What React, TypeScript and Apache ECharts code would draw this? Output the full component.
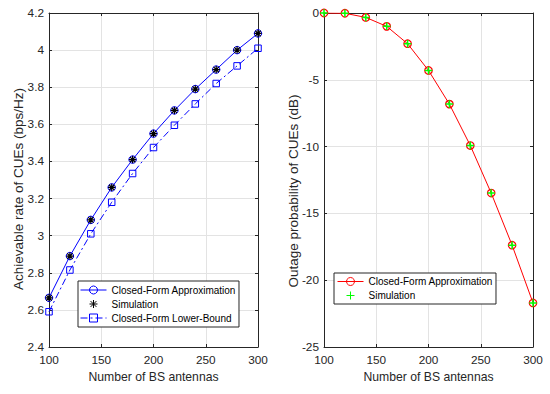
import React, { useEffect, useRef } from "react";
import * as echarts from "echarts";

const antennas = [100, 120, 140, 160, 180, 200, 220, 240, 260, 280, 300];
const rateApprox = [2.665, 2.89, 3.085, 3.26, 3.41, 3.55, 3.675, 3.79, 3.895, 4.0, 4.09];
const rateSim = [2.665, 2.89, 3.085, 3.26, 3.41, 3.55, 3.675, 3.79, 3.895, 4.0, 4.09];
const rateLower = [2.59, 2.815, 3.01, 3.18, 3.335, 3.475, 3.595, 3.71, 3.82, 3.915, 4.01];
const outageApprox = [0, -0.02, -0.33, -1.0, -2.3, -4.3, -6.82, -9.92, -13.48, -17.38, -21.7];
const outageSim = [0, -0.02, -0.33, -1.0, -2.3, -4.3, -6.82, -9.92, -13.48, -17.38, -21.7];
const leftLegendNames = ["Closed-Form Approximation", "Simulation", "Closed-Form Lower-Bound"];
const rightLegendNames = ["Closed-Form Approximation", "Simulation"];
const xTitle = "Number of BS antennas";
const leftYTitle = "Achievable rate of CUEs (bps/Hz)";
const rightYTitle = "Outage probability of CUEs (dB)";

const FONT = "'Liberation Sans', Arial, Helvetica, sans-serif";
const AX = "#262626";
const GRIDC = "#e3e3e3";
const ASTERISK = "path://M0,-1L0,1M-1,0L1,0M-0.72,-0.72L0.72,0.72M-0.72,0.72L0.72,-0.72";
const PLUS = "path://M0,-1L0,1M-1,0L1,0";

const pairs = (ys: number[]) => antennas.map((x, i) => [x, ys[i]]);

function xAxes(gridIndex: number) {
  const common = {
    type: "value" as const,
    gridIndex,
    min: 100,
    max: 300,
    interval: 50,
    axisLine: { show: true, onZero: false, lineStyle: { color: AX, width: 1 } },
    axisTick: { show: true, inside: true, length: 3, lineStyle: { color: AX } },
  };
  return [
    {
      ...common,
      position: "bottom",
      name: xTitle,
      nameLocation: "middle",
      nameGap: 22,
      nameTextStyle: { fontFamily: FONT, fontSize: 12.2, color: AX },
      axisLabel: { show: true, margin: 7, fontFamily: FONT, fontSize: 11.8, color: AX },
      splitLine: { show: true, lineStyle: { color: GRIDC, width: 1 } },
    },
    {
      ...common,
      position: "top",
      axisLabel: { show: false },
      splitLine: { show: false },
    },
  ];
}

function yAxes(gridIndex: number, min: number, max: number, interval: number) {
  const common = {
    type: "value" as const,
    gridIndex,
    min,
    max,
    interval,
    axisLine: { show: true, onZero: false, lineStyle: { color: AX, width: 1 } },
    axisTick: { show: true, inside: true, length: 3, lineStyle: { color: AX } },
  };
  return [
    {
      ...common,
      position: "left",
      axisLabel: { show: true, margin: 5, fontFamily: FONT, fontSize: 11.8, color: AX },
      splitLine: { show: true, lineStyle: { color: GRIDC, width: 1 } },
    },
    {
      ...common,
      position: "right",
      axisLabel: { show: false },
      splitLine: { show: false },
    },
  ];
}

export default function App() {
  const ref = useRef<HTMLDivElement>(null);
  useEffect(() => {
    if (!ref.current) return;
    const chart = echarts.init(ref.current, undefined, { renderer: "svg" });
    const legendCommon = {
      orient: "vertical" as const,
      backgroundColor: "#fff",
      borderColor: AX,
      borderWidth: 1,
      borderRadius: 0,
      itemWidth: 26,
      itemHeight: 10,
      itemGap: 4,
      textStyle: { fontFamily: FONT, fontSize: 10, color: "#000" },
      itemStyle: { borderWidth: 1 },
      selectedMode: false,
    };
    const yTitle = (text: string, x: number, y: number) => ({
      type: "text",
      x,
      y,
      rotation: Math.PI / 2,
      style: {
        text,
        fontFamily: FONT,
        fontSize: 13.5,
        fill: AX,
        align: "center",
        verticalAlign: "middle",
      },
    });
    chart.setOption({
      animation: false,
      backgroundColor: "#fff",
      grid: [
        { left: 49, top: 13, width: 209, height: 334 },
        { left: 324, top: 13, width: 209, height: 334 },
      ],
      xAxis: [...xAxes(0), ...xAxes(1)],
      yAxis: [...yAxes(0, 2.4, 4.2, 0.2), ...yAxes(1, -25, 0, 5)],
      graphic: [yTitle(leftYTitle, 18.5, 189), yTitle(rightYTitle, 293.5, 191)],
      legend: [
        {
          ...legendCommon,
          left: 78,
          top: 281,
          padding: [4, 3, 4, 2],
          data: [
            { name: "L:" + leftLegendNames[0], lineStyle: { width: 1 } },
            { name: "L:" + leftLegendNames[1], lineStyle: { width: 0 } },
            { name: "L:" + leftLegendNames[2], lineStyle: { width: 1 } },
          ],
          formatter: (n: string) => n.slice(2),
        },
        {
          ...legendCommon,
          left: 334,
          top: 273,
          padding: [3.5, 3, 3.5, 3],
          data: [
            { name: "R:" + rightLegendNames[0], lineStyle: { width: 1 } },
            { name: "R:" + rightLegendNames[1], lineStyle: { width: 0 } },
          ],
          formatter: (n: string) => n.slice(2),
        },
      ],
      series: [
        {
          name: "L:" + leftLegendNames[2],
          type: "line",
          xAxisIndex: 0,
          yAxisIndex: 0,
          data: pairs(rateLower),
          symbol: "rect",
          symbolSize: 6.5,
          lineStyle: { color: "#0000ff", width: 1, type: [7, 3, 2, 3] },
          itemStyle: { color: "rgba(255,255,255,0)", borderColor: "#0000ff", borderWidth: 1 },
        },
        {
          name: "L:" + leftLegendNames[0],
          type: "line",
          xAxisIndex: 0,
          yAxisIndex: 0,
          data: pairs(rateApprox),
          symbol: "circle",
          symbolSize: 7.5,
          lineStyle: { color: "#0000ff", width: 1, type: "solid" },
          itemStyle: { color: "rgba(255,255,255,0)", borderColor: "#0000ff", borderWidth: 1 },
        },
        {
          name: "L:" + leftLegendNames[1],
          type: "line",
          xAxisIndex: 0,
          yAxisIndex: 0,
          data: pairs(rateSim),
          symbol: ASTERISK,
          symbolSize: 7.5,
          lineStyle: { width: 0, color: "#000" },
          itemStyle: { color: "#000", borderColor: "#000", borderWidth: 1.2 },
        },
        {
          name: "R:" + rightLegendNames[0],
          type: "line",
          xAxisIndex: 2,
          yAxisIndex: 2,
          data: pairs(outageApprox),
          symbol: "circle",
          symbolSize: 7.5,
          lineStyle: { color: "#ff0000", width: 1 },
          itemStyle: { color: "rgba(255,255,255,0)", borderColor: "#ff0000", borderWidth: 1.2 },
        },
        {
          name: "R:" + rightLegendNames[1],
          type: "line",
          xAxisIndex: 2,
          yAxisIndex: 2,
          data: pairs(outageSim),
          symbol: PLUS,
          symbolSize: 7.5,
          lineStyle: { width: 0, color: "#00ff00" },
          itemStyle: { color: "#00ff00", borderColor: "#00ff00", borderWidth: 1.5 },
        },
      ],
    });
    return () => chart.dispose();
  }, []);
  return <div ref={ref} style={{ width: 550, height: 394, position: "absolute", left: 0, top: 0 }} />;
}
